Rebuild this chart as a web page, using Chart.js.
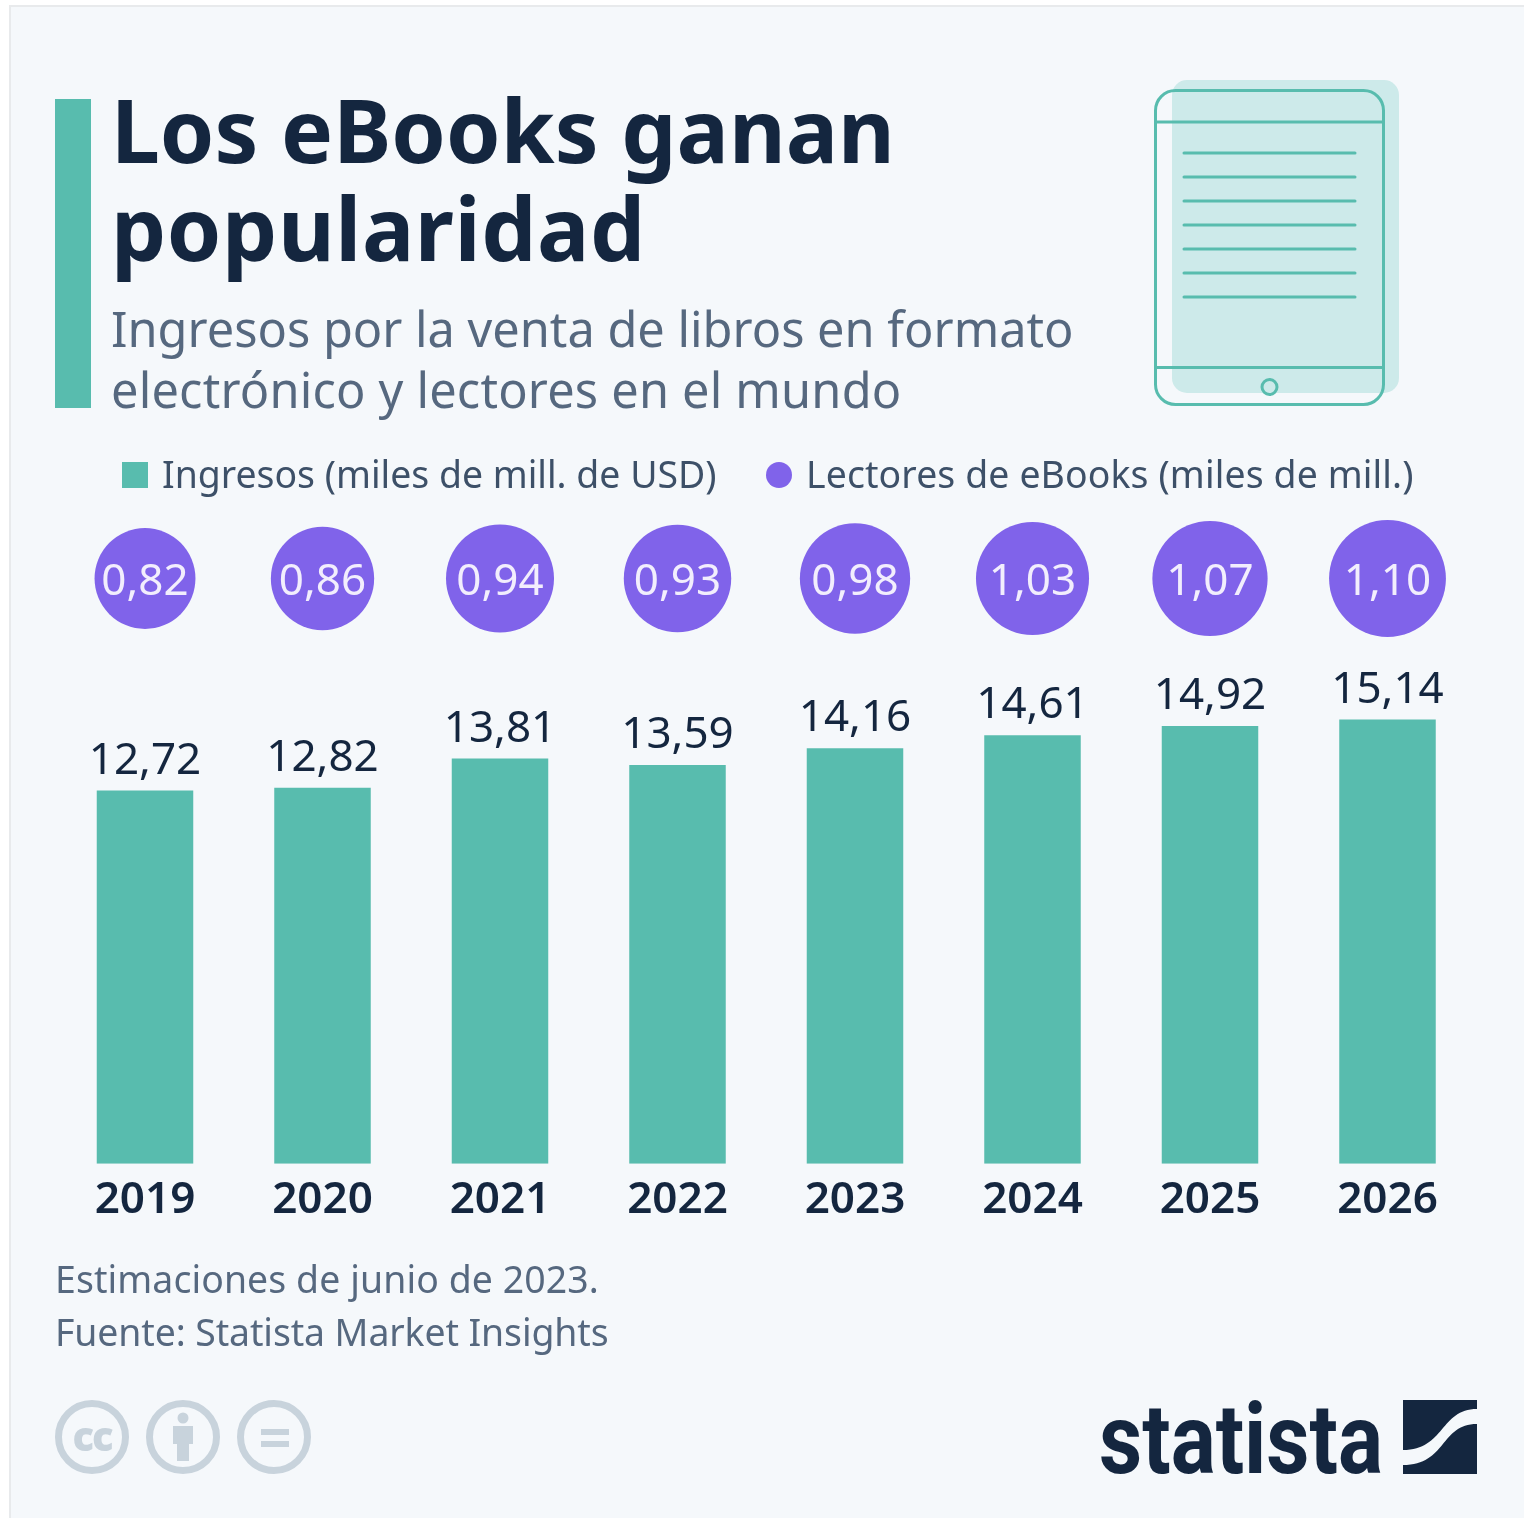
<!DOCTYPE html>
<html lang="es"><head><meta charset="utf-8">
<style>
html,body{margin:0;padding:0;background:#fff;width:1524px;height:1518px;overflow:hidden}
#panel{position:absolute;left:9px;top:5px;width:1515px;height:1513px;background:#f5f8fb;border-left:2px solid #e8eaec;border-top:2px solid #e8eaec;box-sizing:border-box}
#c{position:absolute;left:0;top:0}
.t{position:absolute;white-space:nowrap;font-family:"Noto Sans",sans-serif}
svg{position:absolute;left:0;top:0}
</style></head><body>
<div id="panel"></div>
<canvas id="c" width="1524" height="1518"></canvas>
<svg width="1524" height="1518" viewBox="0 0 1524 1518">
<rect x="55" y="99" width="36" height="309" fill="#58bcae"/>
<rect x="1172" y="80" width="227" height="313" rx="15" fill="#cdeaea"/>
<g fill="none" stroke="#58bcae" stroke-width="3">
<rect x="1155.5" y="90.5" width="228" height="314" rx="20"/>
<path d="M1155 122H1384M1155 367.5H1384"/>
<circle cx="1269.5" cy="387" r="7.5"/>
<path stroke-linecap="round" d="M1184 153H1355M1184 177H1355M1184 201H1355M1184 225H1355M1184 249H1355M1184 273H1355M1184 297H1355"/>
</g>
<rect x="122" y="462" width="26" height="26" fill="#58bcae"/>
<circle cx="779" cy="475" r="13" fill="#8063ea"/>
<g fill="none" stroke="#c8d3dc" stroke-width="7">
<circle cx="92" cy="1437" r="33.5"/><circle cx="183" cy="1437" r="33.5"/><circle cx="274" cy="1437" r="33.5"/>
</g>
<g fill="#c8d3dc">
<text x="92" y="1451" text-anchor="middle" font-family="Open Sans" font-weight="800" font-size="40" letter-spacing="-2">cc</text>
<circle cx="183" cy="1418" r="5.5"/>
<path d="M173 1426H193V1444H189V1461H177V1444H173Z"/>
<rect x="261" y="1429" width="28" height="6"/><rect x="261" y="1441" width="28" height="6"/>
</g>
<text x="1099" y="1473" font-family="Roboto" font-weight="700" font-size="98" fill="#14263f" textLength="284" lengthAdjust="spacingAndGlyphs">statista</text>
<g fill="#14263f">
<path d="M1403 1400H1477V1409C1440 1409 1445 1450 1403 1450Z"/>
<path d="M1477 1424C1440 1424 1447 1465 1403 1465V1474H1477Z"/>
</g>
</svg>
<div class="t" style="left:111px;top:81px;font-size:87.4px;line-height:98px;font-weight:700;color:#14263f">Los eBooks ganan<br><span style="letter-spacing:.6px">popularidad</span></div>
<div class="t" style="left:111px;top:298px;font-size:48.7px;line-height:61px;color:#56687f">Ingresos por la venta de libros en formato<br><span style="letter-spacing:.2px">electrónico y lectores en el mundo</span></div>
<div class="t" style="left:162px;top:449px;font-size:37.4px;line-height:50px;color:#3d5068">Ingresos (miles de mill. de USD)</div>
<div class="t" style="left:806px;top:449px;font-size:37.4px;line-height:50px;letter-spacing:.12px;color:#3d5068">Lectores de eBooks (miles de mill.)</div>
<div class="t" style="left:55px;top:1252px;font-size:37.4px;line-height:53px;color:#56687f"><span style="letter-spacing:.1px">Estimaciones de junio de 2023.</span><br><span style="letter-spacing:-.1px">Fuente: Statista Market Insights</span></div>
<script src="https://cdn.jsdelivr.net/npm/chart.js@4"></script>
<script>
const years = ['2019','2020','2021','2022','2023','2024','2025','2026'];
const ingresos = [12.72,12.82,13.81,13.59,14.16,14.61,14.92,15.14];
const lectores = [0.82,0.86,0.94,0.93,0.98,1.03,1.07,1.10];
const fmt = v => v.toFixed(2).replace('.',',');
const TEAL='#58bcae', PURPLE='#8063ea', DARK='#14263f';
const labelPlugin = {
  id:'valueLabels',
  afterDatasetsDraw(chart){
    const ctx=chart.ctx;
    ctx.save();
    ctx.font='44px "Noto Sans"';
    ctx.textAlign='center';
    chart.getDatasetMeta(1).data.forEach((el,i)=>{
      ctx.fillStyle=DARK; ctx.textBaseline='alphabetic';
      ctx.fillText(fmt(ingresos[i]),el.x,el.y-17);
    });
    chart.getDatasetMeta(0).data.forEach((el,i)=>{
      ctx.fillStyle='#f2eefd'; ctx.textBaseline='alphabetic';
      ctx.fillText(fmt(lectores[i]),el.x,el.y+16);
    });
    ctx.restore();
  }
};
new Chart(document.getElementById('c'),{
  data:{labels:years,datasets:[
    {type:'bubble',label:'Lectores de eBooks (miles de mill.)',yAxisID:'y2',clip:false,
     backgroundColor:PURPLE,borderWidth:0,
     data:years.map((y,i)=>({x:y,y:1,r:55.7*Math.sqrt(lectores[i])}))},
    {type:'bar',label:'Ingresos (miles de mill. de USD)',yAxisID:'y',backgroundColor:TEAL,
     barPercentage:0.5437,categoryPercentage:1,data:ingresos}
  ]},
  options:{
    responsive:false,animation:false,devicePixelRatio:1,
    layout:{autoPadding:false,padding:{left:56.25,right:47.75,top:578.5,bottom:288.5}},
    plugins:{legend:{display:false},tooltip:{enabled:false}},
    scales:{
      x:{type:'category',offset:true,grid:{display:false},border:{display:false},
         ticks:{color:DARK,font:{family:'Noto Sans',size:44,weight:'600'},padding:2.5,maxRotation:0}},
      y:{display:false,min:0,max:19.95,position:'left'},
      y2:{display:false,min:0,max:1,position:'right'}
    }
  },
  plugins:[labelPlugin]
});
</script>
</body></html>
